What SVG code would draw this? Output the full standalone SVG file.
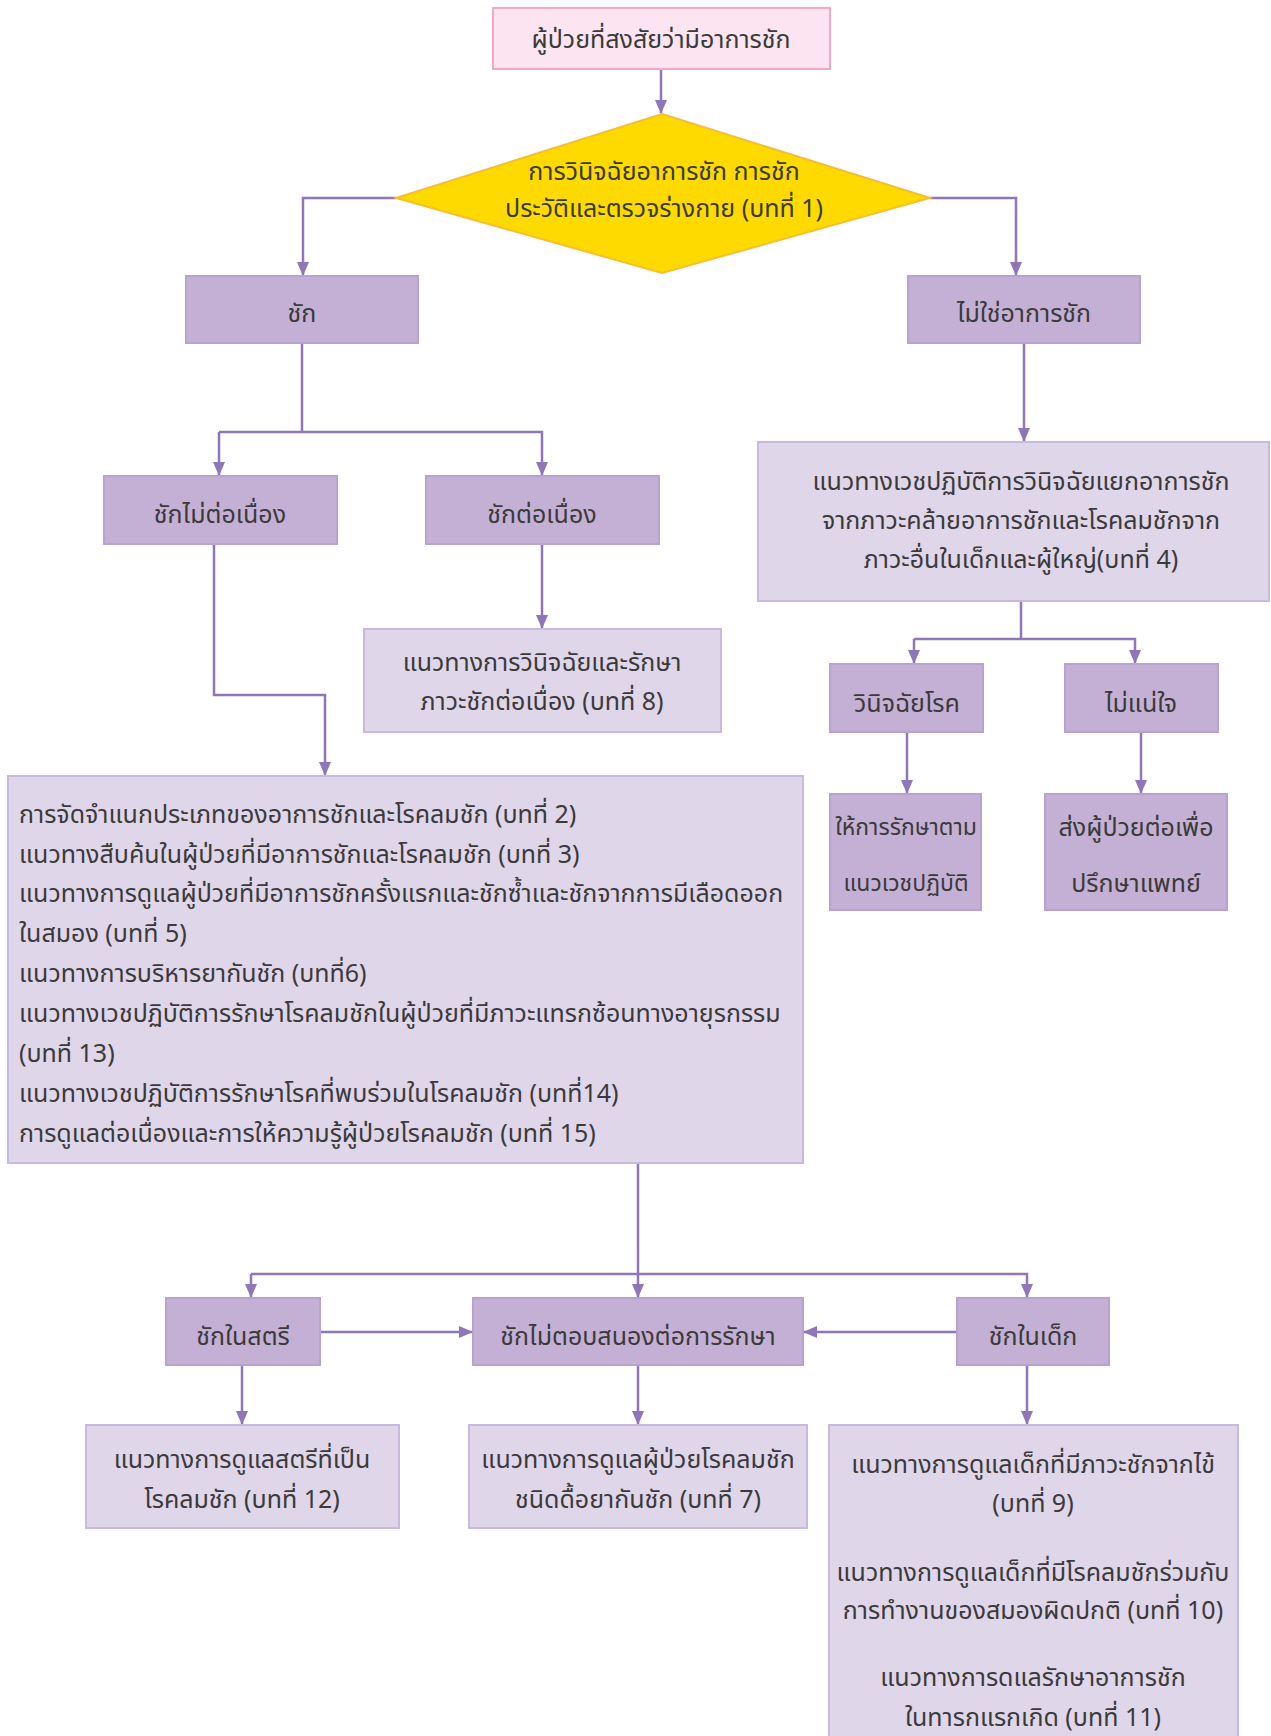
<svg xmlns="http://www.w3.org/2000/svg" width="1271" height="1736" viewBox="0 0 1271 1736">
<style>
text{font-family:"Noto Sans Thai","Noto Sans","DejaVu Sans",sans-serif;font-size:25px;fill:#3a3a3a;text-anchor:middle;dominant-baseline:central}
.l{text-anchor:start}
.dark{fill:#C5B0D5;stroke:#B8A2D0;stroke-width:2}
.light{fill:#E0D6EA;stroke:#C9B9DC;stroke-width:2}
.conn path{fill:none;stroke:#8E76B9;stroke-width:2.5}
</style>
<defs>
<marker id="ah" markerUnits="userSpaceOnUse" markerWidth="14" markerHeight="14" viewBox="0 0 14 14" refX="13" refY="7" orient="auto">
<path d="M0,1 L14,7 L0,13 Z" fill="#8E76B9"/>
</marker>
</defs>
<rect width="1271" height="1736" fill="#ffffff"/>

<g class="conn">
<path d="M661,69 V113" marker-end="url(#ah)"/>
<path d="M396,198 H303 V275" marker-end="url(#ah)"/>
<path d="M930,198 H1016 V275" marker-end="url(#ah)"/>
<path d="M302,343 V432"/>
<path d="M219,432 H542 V475" marker-end="url(#ah)"/>
<path d="M219,432 V475" marker-end="url(#ah)"/>
<path d="M542,544 V628" marker-end="url(#ah)"/>
<path d="M214,544 V695 H325 V775" marker-end="url(#ah)"/>
<path d="M1024,343 V441" marker-end="url(#ah)"/>
<path d="M1021,601 V639"/>
<path d="M914,639 H1135 V663" marker-end="url(#ah)"/>
<path d="M914,639 V663" marker-end="url(#ah)"/>
<path d="M907,732 V793" marker-end="url(#ah)"/>
<path d="M1141,732 V793" marker-end="url(#ah)"/>
<path d="M638,1163 V1297" marker-end="url(#ah)"/>
<path d="M251,1274 H1027 V1297" marker-end="url(#ah)"/>
<path d="M251,1274 V1297" marker-end="url(#ah)"/>
<path d="M320,1332 H472" marker-end="url(#ah)"/>
<path d="M957,1332 H804" marker-end="url(#ah)"/>
<path d="M242,1365 V1424" marker-end="url(#ah)"/>
<path d="M638,1365 V1424" marker-end="url(#ah)"/>
<path d="M1027,1365 V1424" marker-end="url(#ah)"/>
</g>

<g id="start">
<rect x="493" y="8" width="337" height="61" fill="#FCE5F0" stroke="#F3A8CA" stroke-width="2"/>
<text x="661" y="39.5">ผู้ป่วยที่สงสัยว่ามีอาการชัก</text>
</g>
<g id="diag">
<polygon points="662,114 930,198 662,273 396,198" fill="#FFDA00" stroke="#F6BE30" stroke-width="2"/>
<text x="664" y="172">การวินิจฉัยอาการชัก การชัก</text>
<text x="664" y="209">ประวัติและตรวจร่างกาย (บทที่ 1)</text>
</g>
<g id="seizure">
<rect class="dark" x="186" y="276" width="232" height="67"/>
<text x="302" y="314">ชัก</text>
</g>
<g id="notseizure">
<rect class="dark" x="908" y="276" width="232" height="67"/>
<text x="1024" y="314">ไม่ใช่อาการชัก</text>
</g>
<g id="noncont">
<rect class="dark" x="104" y="476" width="233" height="68"/>
<text x="220" y="514.5">ชักไม่ต่อเนื่อง</text>
</g>
<g id="cont">
<rect class="dark" x="426" y="476" width="233" height="68"/>
<text x="542" y="514.5">ชักต่อเนื่อง</text>
</g>
<g id="ch8">
<rect class="light" x="364" y="629" width="357" height="103"/>
<text x="542" y="663">แนวทางการวินิจฉัยและรักษา</text>
<text x="542" y="702">ภาวะชักต่อเนื่อง (บทที่ 8)</text>
</g>
<g id="ch4">
<rect class="light" x="758" y="442" width="511" height="159"/>
<text x="1021" y="481.5">แนวทางเวชปฏิบัติการวินิจฉัยแยกอาการชัก</text>
<text x="1021" y="520.5">จากภาวะคล้ายอาการชักและโรคลมชักจาก</text>
<text x="1021" y="559.5">ภาวะอื่นในเด็กและผู้ใหญ่(บทที่ 4)</text>
</g>
<g id="diagnose">
<rect class="dark" x="830" y="664" width="153" height="68"/>
<text x="907" y="703.5">วินิจฉัยโรค</text>
</g>
<g id="unsure">
<rect class="dark" x="1065" y="664" width="153" height="68"/>
<text x="1141" y="703.5">ไม่แน่ใจ</text>
</g>
<g id="treat">
<rect class="dark" x="830" y="794" width="151" height="116"/>
<text x="906" y="828" style="font-size:23px">ให้การรักษาตาม</text>
<text x="906" y="884" style="font-size:23px">แนวเวชปฏิบัติ</text>
</g>
<g id="refer">
<rect class="dark" x="1045" y="794" width="182" height="116"/>
<text x="1136" y="828">ส่งผู้ป่วยต่อเพื่อ</text>
<text x="1136" y="884">ปรึกษาแพทย์</text>
</g>
<g id="big">
<rect class="light" x="8" y="776" width="795" height="387"/>
<text class="l" x="19" y="815">การจัดจำแนกประเภทของอาการชักและโรคลมชัก (บทที่ 2)</text>
<text class="l" x="19" y="855">แนวทางสืบค้นในผู้ป่วยที่มีอาการชักและโรคลมชัก (บทที่ 3)</text>
<text class="l" x="19" y="894">แนวทางการดูแลผู้ป่วยที่มีอาการชักครั้งแรกและชักซ้ำและชักจากการมีเลือดออก</text>
<text class="l" x="19" y="934">ในสมอง (บทที่ 5)</text>
<text class="l" x="19" y="974">แนวทางการบริหารยากันชัก (บทที่6)</text>
<text class="l" x="19" y="1014">แนวทางเวชปฏิบัติการรักษาโรคลมชักในผู้ป่วยที่มีภาวะแทรกซ้อนทางอายุรกรรม</text>
<text class="l" x="19" y="1054">(บทที่ 13)</text>
<text class="l" x="19" y="1094">แนวทางเวชปฏิบัติการรักษาโรคที่พบร่วมในโรคลมชัก (บทที่14)</text>
<text class="l" x="19" y="1134">การดูแลต่อเนื่องและการให้ความรู้ผู้ป่วยโรคลมชัก (บทที่ 15)</text>
</g>
<g id="women">
<rect class="dark" x="166" y="1298" width="154" height="67"/>
<text x="243" y="1336.5">ชักในสตรี</text>
</g>
<g id="refractory">
<rect class="dark" x="473" y="1298" width="330" height="67"/>
<text x="638" y="1336.5">ชักไม่ตอบสนองต่อการรักษา</text>
</g>
<g id="children">
<rect class="dark" x="957" y="1298" width="152" height="67"/>
<text x="1033" y="1336.5">ชักในเด็ก</text>
</g>
<g id="ch12">
<rect class="light" x="86" y="1425" width="313" height="103"/>
<text x="242" y="1459.5">แนวทางการดูแลสตรีที่เป็น</text>
<text x="242" y="1499.5">โรคลมชัก (บทที่ 12)</text>
</g>
<g id="ch7">
<rect class="light" x="469" y="1425" width="338" height="103"/>
<text x="638" y="1459.5">แนวทางการดูแลผู้ป่วยโรคลมชัก</text>
<text x="638" y="1499.5">ชนิดดื้อยากันชัก (บทที่ 7)</text>
</g>
<g id="ch9to11">
<rect class="light" x="829" y="1425" width="409" height="320"/>
<text x="1033" y="1465">แนวทางการดูแลเด็กที่มีภาวะชักจากไข้</text>
<text x="1033" y="1504">(บทที่ 9)</text>
<text x="1033" y="1573">แนวทางการดูแลเด็กที่มีโรคลมชักร่วมกับ</text>
<text x="1033" y="1611">การทำงานของสมองผิดปกติ (บทที่ 10)</text>
<text x="1033" y="1678">แนวทางการดแลรักษาอาการชัก</text>
<text x="1033" y="1718">ในทารกแรกเกิด (บทที่ 11)</text>
</g>
</svg>
